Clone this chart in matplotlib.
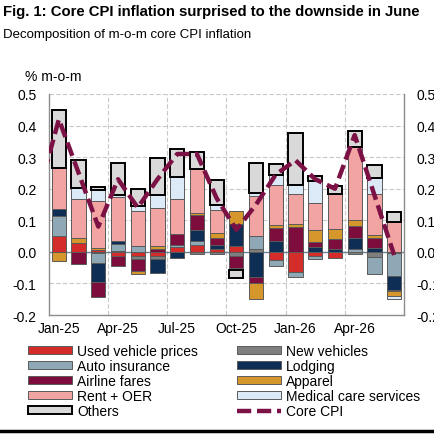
import numpy as np
import matplotlib
matplotlib.use('Agg')
import matplotlib.pyplot as plt
from matplotlib.patches import Patch
from matplotlib.lines import Line2D

plt.rcParams['font.family'] = ['Liberation Sans', 'DejaVu Sans']

#Months shown on the x axis
months = ['Jan-25','Feb-25','Mar-25','Apr-25','May-25','Jun-25','Jul-25','Aug-25','Sep-25',
          'Oct-25','Nov-25','Dec-25','Jan-26','Feb-26','Mar-26','Apr-26','May-26','Jun-26']

#Contributions (pp)
used_vehicles = [0.050,0.028,0.005,-0.012,-0.013,-0.012,0.015,0.022,0.008,0.019,0.0,-0.027,-0.065,-0.014,-0.018,0.0,0.0,0.0]
new_vehicles  = [0.0,0.0,-0.005,0.003,-0.010,-0.012,0.0,-0.008,-0.006,-0.012,0.010,0.0,0.0,0.0,0.0,-0.006,-0.015,-0.005]
auto_ins      = [0.063,0.0,-0.030,0.023,0.019,0.0,0.008,0.013,0.0,0.0,0.040,-0.018,-0.016,-0.008,0.0,0.008,-0.056,-0.070]
lodging       = [0.024,0.0,-0.060,0.009,0.0,-0.044,-0.018,0.034,0.014,0.068,-0.080,0.034,0.0,0.016,0.010,0.037,0.011,-0.045]
airline       = [0.0,-0.040,-0.049,-0.032,-0.037,0.010,0.033,0.048,0.021,-0.040,-0.020,0.042,0.079,0.016,0.030,0.037,0.033,-0.005]
apparel       = [-0.028,0.017,0.007,0.0,-0.010,0.009,0.0,0.007,0.016,0.042,-0.049,0.008,0.008,0.037,0.032,0.019,0.009,-0.016]
rent_oer      = [0.128,0.122,0.149,0.140,0.111,0.121,0.112,0.139,0.073,0.0,0.126,0.129,0.095,0.087,0.112,0.231,0.131,0.095]
medical       = [0.0,0.034,0.035,0.005,0.015,0.040,0.069,0.0,0.016,-0.004,0.012,0.031,0.030,0.068,0.0,0.0,0.051,-0.007]
others        = [0.185,0.090,0.010,0.103,0.053,0.118,0.090,0.054,0.079,-0.028,0.095,0.034,0.163,0.016,0.024,0.050,0.040,0.031]

#Core CPI m-o-m, starting from Dec-24 (partly hidden behind the left axis)
core_cpi = [0.19,0.42,0.25,0.08,0.23,0.14,0.23,0.31,0.31,0.17,0.07,0.15,0.245,0.29,0.23,0.20,0.37,0.18,-0.01]

series = [('Used vehicle prices', used_vehicles, '#d42b2b'),
          ('New vehicles', new_vehicles, '#7f7f7f'),
          ('Auto insurance', auto_ins, '#8ea9b5'),
          ('Lodging', lodging, '#0e2e56'),
          ('Airline fares', airline, '#7c0d3c'),
          ('Apparel', apparel, '#d5962c'),
          ('Rent + OER', rent_oer, '#f2a4a2'),
          ('Medical care services', medical, '#dceaf7'),
          ('Others', others, '#d9d9d9')]

core_col = '#7c1145'
core_ls = (0, (3.2, 1.3))

x = np.arange(len(months))
bar_w = 0.72

fig = plt.figure(figsize=(4.35, 4.35), dpi=100, facecolor='w')
ax = fig.add_axes([49/435, 1-316/435, 355/435, 221/435])

pos_bottom = np.zeros(len(x))
neg_bottom = np.zeros(len(x))
for name, vals, col in series:
    v = np.array(vals)
    bottoms = np.where(v >= 0, pos_bottom, neg_bottom)
    if name == 'Others':
        ax.bar(x, v, bar_w, bottom=bottoms, color=col, edgecolor='black', lw=1.4, zorder=3)
    else:
        ax.bar(x, v, bar_w, bottom=bottoms, color=col, edgecolor='#5a5a5a', lw=0.7, zorder=3)
    pos_bottom += np.where(v >= 0, v, 0)
    neg_bottom += np.where(v < 0, v, 0)

ax.axhline(0, color='#6f8293', lw=1.0, zorder=2)
ax.plot(np.arange(-1, len(months)), core_cpi, color=core_col, lw=3.2, ls=core_ls, zorder=5)

ax.set_xlim(-0.5, 17.5)
ax.set_ylim(-0.2, 0.5)
yt = np.arange(-0.2, 0.51, 0.1)
ax.set_yticks(yt)
ax.set_yticklabels(['%.1f' % t for t in yt])
ax.set_xticks(x[::3])
ax.set_xticklabels(months[::3])
ax.set_xticks(np.arange(2.5, 17, 3), minor=True)
ax.tick_params(axis='both', which='both', labelsize=10, length=0, colors='black')
ax.tick_params(axis='y', right=True, labelright=True, pad=9)
ax.tick_params(axis='x', pad=4)

ax.grid(axis='y', color='#c8c8c8', ls=(0, (4, 2)), lw=0.8, zorder=0)
ax.grid(axis='x', which='minor', color='#c8c8c8', ls=(0, (4, 2)), lw=0.8, zorder=0)
ax.spines['top'].set_visible(False)
for s in ['left', 'right', 'bottom']:
    ax.spines[s].set_color('#8c8c8c')
    ax.spines[s].set_linewidth(1.0)

fig.text(0.007, 1-12/435, 'Fig. 1: Core CPI inflation surprised to the downside in June',
         fontsize=10.7, fontweight='bold', va='center', ha='left')
fig.text(0.007, 1-35/435, 'Decomposition of m-o-m core CPI inflation', fontsize=9.5, va='center', ha='left')
fig.text(25/435, 1-77/435, '% m-o-m', fontsize=10, va='center', ha='left')

#Legend is filled row-wise in the reference
def patch(name):
    for n, v, c in series:
        if n == name:
            if n == 'Others':
                return Patch(facecolor=c, edgecolor='black', lw=1.4, label=n)
            return Patch(facecolor=c, edgecolor='#5a5a5a', lw=0.7, label=n)

core_handle = Line2D([], [], color=core_col, lw=3.2, ls=core_ls, label='Core CPI')
col1 = [patch('Used vehicle prices'), patch('Auto insurance'), patch('Airline fares'), patch('Rent + OER'), patch('Others')]
col2 = [patch('New vehicles'), patch('Lodging'), patch('Apparel'), patch('Medical care services'), core_handle]
handles = col1 + col2
fig.legend(handles=handles, labels=[h.get_label() for h in handles], ncol=2,
           loc='upper left', bbox_to_anchor=(18/435, 1-335/435), frameon=False,
           fontsize=10, handlelength=3.2, handleheight=0.45, handletextpad=0.35,
           columnspacing=2.8, labelspacing=0.08, borderpad=0.2)

fig.add_artist(Line2D([0, 1], [1-432/435, 1-432/435], color='black', lw=2.5))

fig.savefig('out.png', dpi=100, facecolor='w')
